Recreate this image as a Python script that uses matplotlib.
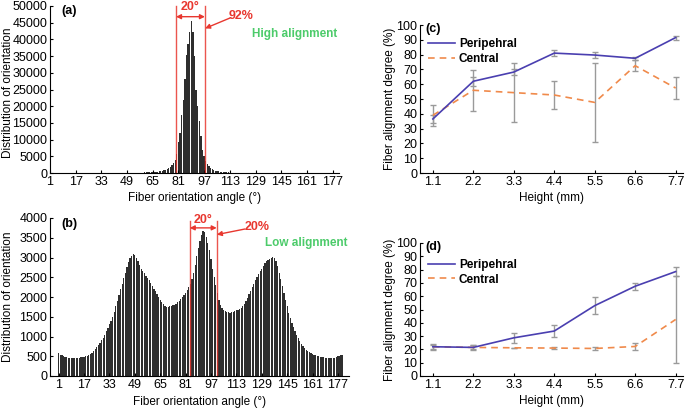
import numpy as np
import matplotlib
matplotlib.use("Agg")
import matplotlib.pyplot as plt

plt.rcParams['font.family'] = ['Liberation Sans', 'DejaVu Sans']

# ---------------- data ----------------
angles = list(range(1, 181))

# panel (a): high alignment histogram
high_counts = [
    20, 20, 18, 18, 17, 16, 16, 15, 15, 15, 14, 14, 14, 13, 13, 13, 13, 12, 12, 12,
    12, 12, 12, 12, 12, 13, 13, 13, 14, 14, 15, 15, 16, 16, 17, 18, 19, 20, 21, 22,
    24, 26, 28, 30, 33, 36, 40, 44, 48, 55, 60, 68, 75, 85, 95, 105, 118, 130, 145, 160,
    175, 195, 215, 240, 265, 300, 340, 400, 470, 560, 660, 800, 950, 1150, 1400, 1800, 2300, 2900, 3900, 5600,
    9400, 11900, 17400, 21900, 28000, 35300, 38500, 42300, 45600, 42300, 35000, 25000, 20000, 15500, 11000, 7000, 5000, 3600, 2600, 2000,
    1500, 1150, 900, 700, 560, 450, 370, 310, 260, 220, 190, 165, 145, 125, 110, 98, 88, 80, 72, 65,
    58, 52, 47, 43, 40, 37, 34, 31, 29, 27, 25, 24, 23, 22, 21, 20, 19, 18, 18, 17,
    17, 16, 16, 15, 15, 15, 14, 14, 14, 14, 13, 13, 13, 13, 13, 13, 13, 13, 12, 12,
    12, 12, 12, 12, 12, 12, 12, 12, 12, 12, 12, 12, 12, 12, 12, 12, 12, 12, 12, 12,
]

# panel (b): low alignment histogram
low_counts = [
    580, 540, 520, 505, 490, 475, 465, 455, 450, 445, 450, 448, 455, 460, 470, 478, 485, 495, 510, 530,
    560, 590, 630, 680, 730, 790, 840, 900, 970, 1050, 1130, 1220, 1310, 1400, 1500, 1620, 1760, 1900, 2050, 2200,
    2340, 2480, 2620, 2750, 2880, 2980, 3050, 3080, 3060, 3000, 2900, 2800, 2720, 2660, 2600, 2540, 2480, 2420, 2350, 2280,
    2210, 2150, 2080, 2000, 1930, 1880, 1820, 1780, 1750, 1740, 1760, 1780, 1790, 1810, 1830, 1870, 1910, 1960, 2010, 2060,
    2110, 2170, 2250, 2330, 2450, 2620, 2820, 3050, 3250, 3420, 3560, 3680, 3640, 3520, 3370, 3180, 2950, 2720, 2500, 2300,
    2100, 1930, 1800, 1720, 1680, 1650, 1630, 1610, 1600, 1610, 1630, 1650, 1660, 1680, 1700, 1730, 1760, 1820, 1900, 1980,
    2070, 2160, 2250, 2340, 2420, 2500, 2580, 2650, 2720, 2790, 2850, 2900, 2940, 2970, 3000, 3010, 2990, 2900, 2780, 2620,
    2450, 2280, 2100, 1930, 1760, 1600, 1460, 1340, 1230, 1130, 1040, 960, 890, 820, 760, 710, 670, 630, 600, 575,
    555, 535, 520, 505, 495, 485, 478, 470, 465, 460, 455, 452, 450, 455, 465, 480, 495, 510, 525, 540,
]

angle_ticks = [1, 17, 33, 49, 65, 81, 97, 113, 129, 145, 161, 177]

heights = [1.1, 2.2, 3.3, 4.4, 5.5, 6.6, 7.7]

c_peri = [36.5, 62.0, 68.2, 81.0, 79.7, 77.5, 91.5]
c_peri_err = [2.5, 3.0, 2.0, 2.0, 2.0, 1.0, 1.3]
c_cent = [39.0, 55.9, 54.3, 52.7, 47.7, 72.5, 57.4]
c_cent_err = [7.0, 13.8, 20.0, 9.3, 26.5, 3.7, 7.5]

d_peri = [22.0, 21.5, 28.7, 33.8, 52.9, 67.5, 78.5]
d_peri_err = [2.2, 2.0, 3.8, 4.5, 6.2, 2.5, 3.3]
d_cent = [22.0, 21.5, 21.2, 21.0, 20.7, 22.2, 42.5]
d_cent_err = [1.5, 1.5, 0.0, 0.8, 1.2, 2.8, 32.5]

# ---------------- figure ----------------
W, H = 685, 408
fig = plt.figure(figsize=(W / 100, H / 100), dpi=100)

def rect(l, t, r, b):
    return [l / W, 1 - b / H, (r - l) / W, (b - t) / H]

def fp(x, y):
    return (x / W, 1 - y / H)

FS = 9
LFS = 8.5
RED = '#e8372f'
GREEN = '#4ccb6a'
BLUE = '#4a3fb0'
ORANGE = '#f08a4b'
GRAY = '#9a9a9a'

def style(ax):
    for s in ('top', 'right'):
        ax.spines[s].set_visible(False)
    ax.tick_params(direction='in', labelsize=FS, length=2.5, width=0.8, pad=2)
    for s in ('left', 'bottom'):
        ax.spines[s].set_linewidth(0.8)

# (a)
axa = fig.add_axes(rect(50, 6, 339, 173))
axa.bar(angles, high_counts, width=0.8, color='#2e2e2e', linewidth=0)
axa.set_xlim(1, 181)
axa.set_ylim(0, 50000)
axa.set_yticks(range(0, 50001, 5000))
axa.set_xticks(angle_ticks)
style(axa)
axa.set_ylabel('Distribution of orientation', fontsize=LFS)
axa.yaxis.set_label_coords((14 - 50) / 289, 0.48)
axa.set_xlabel('Fiber orientation angle (°)', fontsize=LFS, labelpad=3)
for xv in (79.5, 97.5):
    axa.plot([xv, xv], [0, 50000], color=RED, lw=1.0, alpha=0.85, clip_on=False)
axa.annotate('', xy=(79.5, 46800), xytext=(97.5, 46800),
             arrowprops=dict(arrowstyle='<|-|>', color=RED, lw=1, mutation_scale=7, shrinkA=0, shrinkB=0))
axa.text(88.5, 49700, '20°', color=RED, fontsize=FS, fontweight='bold', ha='center', va='center')
fig.text(*fp(241, 16), '92%', color=RED, fontsize=FS, fontweight='bold', ha='center', va='center')
axa.annotate('', xy=(97.6, 43300), xycoords='data', xytext=fp(230, 18), textcoords='figure fraction',
             arrowprops=dict(arrowstyle='-|>', color=RED, lw=1, mutation_scale=7, shrinkA=0, shrinkB=0))
fig.text(*fp(295, 34), 'High alignment', color=GREEN, fontsize=LFS, fontweight='bold', ha='center', va='center')
fig.text(*fp(61, 11), '(a)', fontsize=FS, fontweight='bold', ha='left', va='center')

# (b)
axb = fig.add_axes(rect(50, 218, 349, 376))
axb.bar(angles, low_counts, width=0.8, color='#2e2e2e', linewidth=0)
axb.set_xlim(-4.5, 184)
axb.set_ylim(0, 4000)
axb.set_yticks(range(0, 4001, 500))
axb.set_xticks(angle_ticks)
style(axb)
axb.set_ylabel('Distribution of orientation', fontsize=LFS)
axb.yaxis.set_label_coords((14 - 50) / 299, 0.5)
axb.set_xlabel('Fiber orientation angle (°)', fontsize=LFS, labelpad=4)
for xv in (83.6, 100.6):
    axb.plot([xv, xv], [0, 3930], color=RED, lw=1.0, alpha=0.85, clip_on=False)
axb.annotate('', xy=(83.6, 3750), xytext=(100.6, 3750),
             arrowprops=dict(arrowstyle='<|-|>', color=RED, lw=1, mutation_scale=7, shrinkA=0, shrinkB=0))
axb.text(92.1, 3960, '20°', color=RED, fontsize=FS, fontweight='bold', ha='center', va='center')
fig.text(*fp(257, 227), '20%', color=RED, fontsize=FS, fontweight='bold', ha='center', va='center')
axb.annotate('', xy=(100.7, 3580), xycoords='data', xytext=fp(245, 229), textcoords='figure fraction',
             arrowprops=dict(arrowstyle='-|>', color=RED, lw=1, mutation_scale=7, shrinkA=0, shrinkB=0))
fig.text(*fp(306, 243), 'Low alignment', color=GREEN, fontsize=LFS, fontweight='bold', ha='center', va='center')
fig.text(*fp(61, 224), '(b)', fontsize=FS, fontweight='bold', ha='left', va='center')

def line_panel(axrect, peri, peri_err, cent, cent_err, label, label_y, leg_y):
    ax = fig.add_axes(rect(*axrect))
    ax.errorbar(heights, cent, yerr=cent_err, fmt='none', ecolor=GRAY, elinewidth=1, capsize=2, capthick=1, zorder=1)
    ax.errorbar(heights, peri, yerr=peri_err, fmt='none', ecolor=GRAY, elinewidth=1, capsize=2, capthick=1, zorder=1)
    ax.plot(heights, peri, color=BLUE, lw=1.2, label='Peripehral', zorder=3)
    ax.plot(heights, cent, color=ORANGE, lw=1.2, ls=(0, (4, 3)), label='Central', zorder=2)
    ax.set_xlim(0.75, 7.9)
    ax.set_ylim(0, 100)
    ax.set_yticks(range(0, 101, 10))
    ax.set_xticks(heights)
    ax.set_xticklabels([f'{h:.1f}' for h in heights])
    style(ax)
    ax.set_ylabel('Fiber alignment degree (%)', fontsize=LFS)
    ax.yaxis.set_label_coords((396 - 420) / 263, 0.5)
    ax.set_xlabel('Height (mm)', fontsize=LFS, labelpad=3)
    ax.legend(loc='upper left', bbox_to_anchor=(0.0, leg_y), frameon=False,
              prop={'weight': 'bold', 'size': LFS}, handlelength=2.3, handletextpad=0.3,
              labelspacing=0.2, borderaxespad=0.3)
    fig.text(*fp(425, label_y), label, fontsize=FS, fontweight='bold', ha='left', va='center')
    return ax

line_panel((420, 25, 683, 173), c_peri, c_peri_err, c_cent, c_cent_err, '(c)', 29, 0.965)
line_panel((420, 243, 683, 376), d_peri, d_peri_err, d_cent, d_cent_err, '(d)', 247, 0.94)

fig.savefig('out.png', dpi=100)
